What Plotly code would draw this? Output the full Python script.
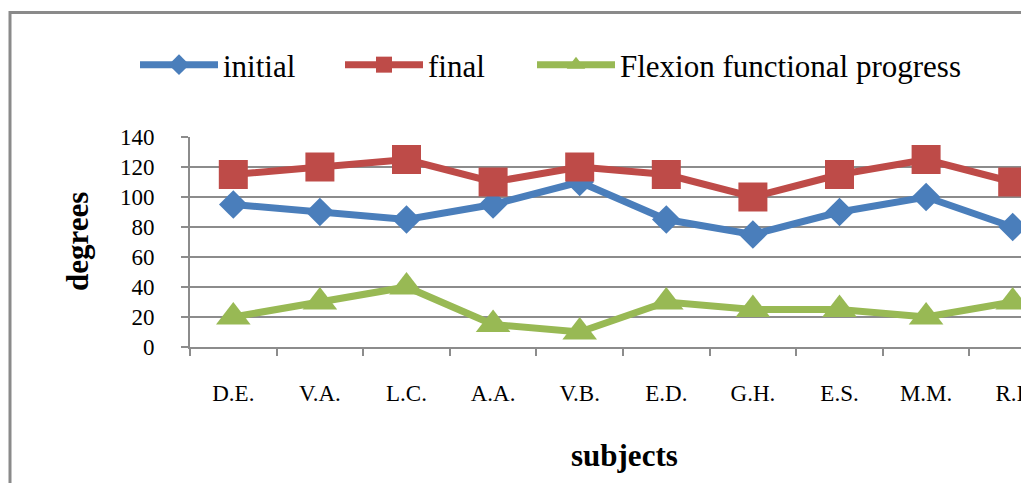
import plotly.graph_objects as go

subjects = ["D.E.", "V.A.", "L.C.", "A.A.", "V.B.", "E.D.", "G.H.", "E.S.", "M.M.", "R.I."]
initial = [95, 90, 85, 95, 110, 85, 75, 90, 100, 80]
final = [115, 120, 125, 110, 120, 115, 100, 115, 125, 110]
progress = [20, 30, 40, 15, 10, 30, 25, 25, 20, 30]
y_ticks = [0, 20, 40, 60, 80, 100, 120, 140]

FONT = "Liberation Serif, Times New Roman, serif"
GRID = "#8c8c8c"

fig = go.Figure()
fig.add_trace(go.Scatter(x=subjects, y=initial, name="initial", mode="lines+markers",
                         line=dict(color="#4a7ebb", width=7), legendwidth=112,
                         marker=dict(symbol="diamond", size=22, color="#4a7ebb")))
fig.add_trace(go.Scatter(x=subjects, y=final, name="final", mode="lines+markers",
                         line=dict(color="#be4b48", width=7), legendwidth=99,
                         marker=dict(symbol="square", size=29, color="#be4b48")))
fig.add_trace(go.Scatter(x=subjects, y=progress, name="Flexion functional progress", mode="lines+markers",
                         line=dict(color="#98b954", width=7),
                         marker=dict(symbol="triangle-up", size=30, color="#98b954")))

L, T, B = 190, 137, 136
W, H = 1021, 483
pw = W - L
ph = H - T - B

def px_x(px):
    return (px - L) / pw

def px_y(py):
    return (H - B - py) / ph

fig.update_layout(
    width=W, height=H,
    margin=dict(l=L, r=0, t=T, b=B, pad=0, autoexpand=False),
    paper_bgcolor="white", plot_bgcolor="white",
    font=dict(family=FONT, color="black"),
    showlegend=True,
    legend=dict(orientation="h", xref="paper", yref="paper",
                x=px_x(135), y=px_y(65), xanchor="left", yanchor="middle",
                font=dict(family=FONT, size=31, color="black"),
                itemwidth=78, bgcolor="rgba(0,0,0,0)"),
    xaxis=dict(type="category", range=[-0.5, -0.5 + pw / 86.6],
               showgrid=False, showline=True, linecolor=GRID, linewidth=2,
               ticks="outside", tickson="boundaries", ticklen=7, tickcolor=GRID, tickwidth=2,
               tickfont=dict(family=FONT, size=23, color="black"),
               ticklabelstandoff=24),
    yaxis=dict(range=[0, 140], tickvals=y_ticks, showgrid=True, gridcolor=GRID, gridwidth=1.5,
               showline=True, linecolor=GRID, linewidth=2, zeroline=False,
               ticks="outside", ticklen=7, tickcolor=GRID, tickwidth=2,
               tickfont=dict(family=FONT, size=23, color="black"),
               ticklabelstandoff=22),
    shapes=[dict(type="rect", xref="paper", yref="paper",
                 x0=px_x(10), x1=px_x(1100), y0=px_y(12.5), y1=px_y(560),
                 line=dict(color="#8a8a8a", width=3), fillcolor="rgba(0,0,0,0)", layer="below")],
    annotations=[
        dict(text="<b>degrees</b>", xref="paper", yref="paper", x=px_x(77), y=px_y(242),
             showarrow=False, textangle=-90, font=dict(family=FONT, size=31, color="black"),
             xanchor="center", yanchor="middle"),
        dict(text="<b>subjects</b>", xref="paper", yref="paper", x=px_x(624), y=px_y(455),
             showarrow=False, font=dict(family=FONT, size=31, color="black"),
             xanchor="center", yanchor="middle"),
    ],
)

fig.write_html("out.html", config={"displayModeBar": False},
               post_script="document.body.style.margin='0';")
